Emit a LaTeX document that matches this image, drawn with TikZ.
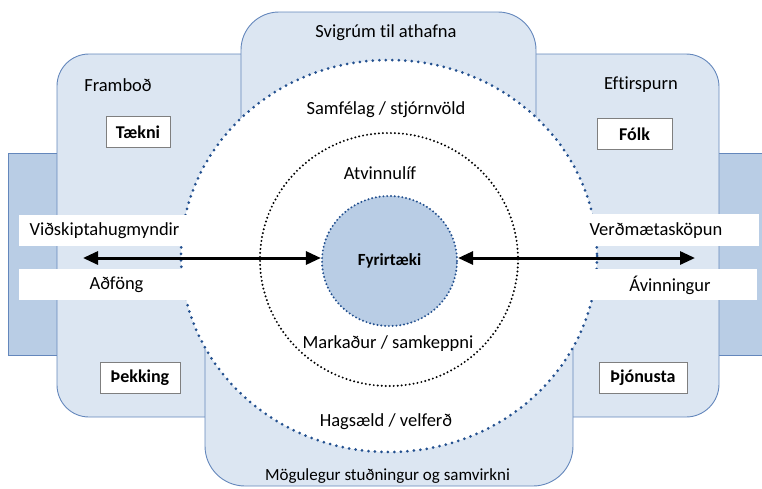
\documentclass[tikz,border=0pt]{standalone}
\usepackage{fontspec}
\setmainfont{Carlito}[Ligatures=NoCommon,RawFeature={-liga;-clig;-calt;-dlig}]
\usetikzlibrary{arrows.meta,shapes.geometric}
\definecolor{panel}{HTML}{DCE6F2}
\definecolor{tab}{HTML}{B9CDE5}
\definecolor{edge}{HTML}{6487BC}
\definecolor{dotblue}{HTML}{23508F}
\definecolor{boxedge}{HTML}{7F7F7F}
\begin{document}
\begin{tikzpicture}[x=1pt,y=-1pt,
  tabbox/.style={fill=tab,draw=edge,line width=0.9pt},
  panelbox/.style={fill=panel,draw=edge,line width=0.9pt},
  outerdots/.style={draw=dotblue,line width=3pt,line cap=round,dash pattern=on 0pt off 6.5pt},
  middots/.style={draw=black,line width=2.2pt,line cap=round,dash pattern=on 0pt off 4pt},
  coredots/.style={draw=dotblue,line width=2.2pt,line cap=round,dash pattern=on 0pt off 3.8pt},
  lbl/.style={font=\fontsize{18.5}{20}\selectfont,inner sep=0pt},
  smalllbl/.style={font=\fontsize{17}{19}\selectfont,inner sep=0pt},
  tag/.style={draw=boxedge,fill=white,line width=0.9pt,font=\fontsize{18}{20}\selectfont\bfseries,
              inner sep=0pt,minimum height=31pt},
  flow/.style={line width=3pt,{Triangle[length=15pt,width=13pt]}-{Triangle[length=15pt,width=13pt]}},
]
\useasboundingbox (0,0) rectangle (762,488);
\clip (0,0) rectangle (762,488);

% side tabs
\draw[tabbox] (8,153) rectangle (90,355);
\draw[tabbox] (700,153) rectangle (790,355);

% supply and demand panels
\draw[panelbox,rounded corners=32pt] (57,54) rectangle (300,417);
\draw[panelbox,rounded corners=33pt] (480,54) rectangle (719,417);

% room for action (top) and support (bottom)
\draw[panelbox,rounded corners=38pt] (241,12) rectangle (536,210);
\draw[panelbox,rounded corners=40pt] (205,300) rectangle (573,486);

% society ring
\fill[white] (389,256) ellipse [x radius=208, y radius=196];
\draw[outerdots] (389,256) ellipse [x radius=208, y radius=196];

% label bars
\fill[white] (19,215) rectangle (200,246);
\fill[white] (19,269) rectangle (200,300);
\fill[white] (575,214) rectangle (759,246);
\fill[white] (575,269) rectangle (757,300);

% business ring
\draw[middots] (389,259.5) ellipse [x radius=129, y radius=126.5];

% the firm
\node[ellipse,minimum width=135pt,minimum height=130pt,fill=tab,coredots,
      font=\fontsize{17}{18}\selectfont\bfseries] (firm) at (389.5,261) {Fyrirtæki};

% flows in and out of the firm
\coordinate (lfar) at (83,258);
\coordinate (rfar) at (695,258);
\draw[flow] (lfar) -- (lfar -| firm.west);
\draw[flow] (rfar -| firm.east) -- (rfar);

% texts
\node[lbl] (svig) at (386,33) {Svigrúm til athafna};
\node[lbl] (framb) at (118,85) {Framboð};
\node[lbl] (eftir) at (641,85) {Eftirspurn};
\node[lbl] (samf) at (386,110) {Samfélag / stjórnvöld};
\node[lbl] (atv) at (380,173) {Atvinnulíf};
\node[lbl] (vidsk) at (104.5,231) {Viðskiptahugmyndir};
\node[lbl] (adf) at (116.5,285) {Aðföng};
\node[lbl] (verd) at (656,231) {Verðmætasköpun};
\node[lbl] (avinn) at (670,285) {Ávinningur};
\node[lbl] (mark) at (388,344) {Markaður / samkeppni};
\node[lbl] (hags) at (386,422) {Hagsæld / velferð};
\node[smalllbl] (mog) at (387.5,476) {Mögulegur stuðningur og samvirkni};

% boxed keywords
\node[tag,minimum width=64pt] (taekni) at (138,132) {Tækni};
\node[tag,minimum width=75pt] (folk) at (634.5,134) {Fólk};
\node[tag,minimum width=80pt] (thekk) at (140,378) {Þekking};
\node[tag,minimum width=88pt] (thjon) at (643,378) {Þjónusta};
\end{tikzpicture}
\end{document}
